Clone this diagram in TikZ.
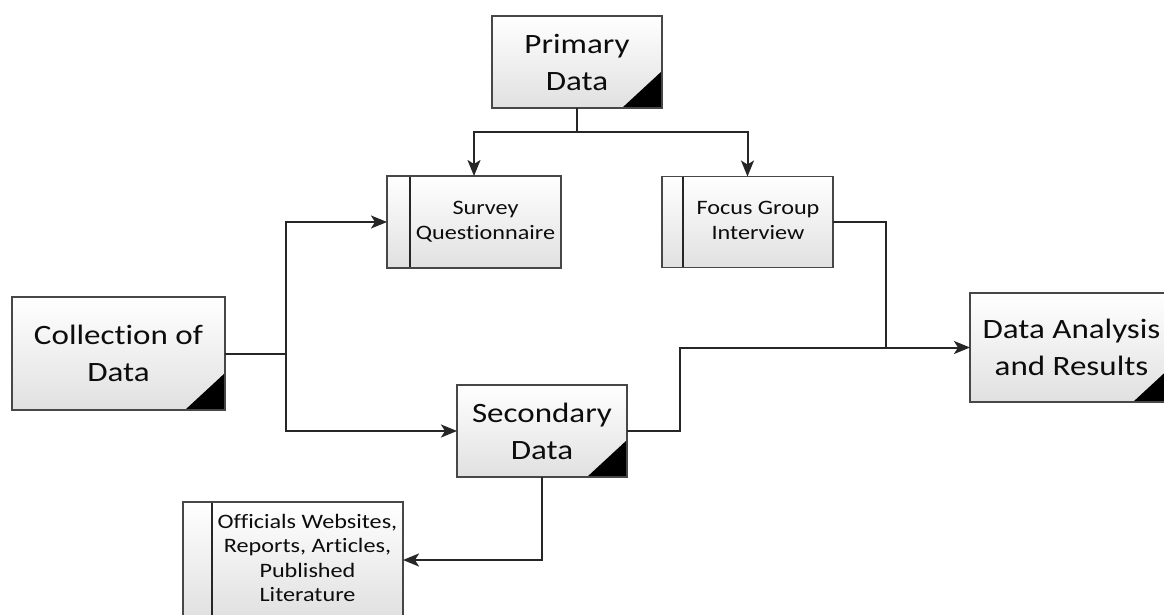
\documentclass[tikz,border=0pt]{standalone}
\usepackage{fontspec}
\setmainfont{Carlito}[FakeStretch=1.18,Ligatures=NoCommon]
\usetikzlibrary{arrows.meta}
\newcommand\inbox[2]{\hspace*{#1}\begin{tabular}{@{}c@{}}#2\end{tabular}}
\begin{document}
\begin{tikzpicture}[x=1pt,y=-1pt,
 boxbase/.style={rectangle, draw=black!72, line width=1.6pt, top color=white, bottom color=black!12,
   inner sep=0pt, outer sep=0pt, text=black!95},
 box/.style={boxbase,
   path picture={\fill[black] (path picture bounding box.south east) -- ++(-40pt,0pt) -- ++(40pt,37pt) -- cycle;}},
 sub/.style={boxbase,
   path picture={\draw[black!85, line width=1.6pt] ([xshift=#1]path picture bounding box.north west) -- ([xshift=#1]path picture bounding box.south west);}},
 big/.style={font=\fontsize{28}{37}\selectfont, align=center},
 small/.style={font=\fontsize{20.5}{24.5}\selectfont},
 conn/.style={draw=black!85, line width=2pt},
 arr/.style={conn, -{Stealth[length=16pt,width=13pt,inset=4pt]}},
]
\clip (0,0) rectangle (1164,615);
\fill[white] (0,0) rectangle (1164,615);

\node[box,big,minimum width=170pt,minimum height=92pt] (prim) at (577,62) {Primary\\Data};
\node[sub=23pt,small,minimum width=174pt,minimum height=92pt] (surv) at (474,222) {\inbox{23pt}{Survey\\Questionnaire}};
\node[sub=21pt,small,minimum width=171pt,minimum height=91pt] (focus) at (747.5,222) {\inbox{21pt}{Focus Group\\Interview}};
\node[box,big,minimum width=213pt,minimum height=113pt] (coll) at (118.5,353.5) {Collection of\\Data};
\node[box,big,minimum width=203pt,minimum height=109pt] (dar) at (1071.5,347.5) {Data Analysis\\and Results};
\node[box,big,minimum width=170pt,minimum height=92pt] (sec) at (542,431) {Secondary\\Data};
\node[sub=29pt,small,minimum width=220pt,minimum height=116pt] (off) at (293,560) {\inbox{29pt}{Officials Websites,\\Reports, Articles,\\Published\\Literature}};

\coordinate (pj) at (577,132);
\draw[conn] (prim.south) -- (pj);
\draw[arr] (pj) -| (surv.north);
\draw[arr] (pj) -| (focus.north);

\coordinate (cj) at (286,353.5);
\draw[conn] (coll.east) -- (cj);
\draw[arr] (cj) |- (surv.west);
\draw[arr] (cj) |- (sec.west);

\coordinate (fj) at (886,347.5);
\coordinate (sj) at (680,347.5);
\draw[conn] (focus.east) -| (fj);
\draw[arr] (sec.east) -| (sj) -- (dar.west);

\draw[arr] (sec.south) |- (off.east);
\end{tikzpicture}
\end{document}
